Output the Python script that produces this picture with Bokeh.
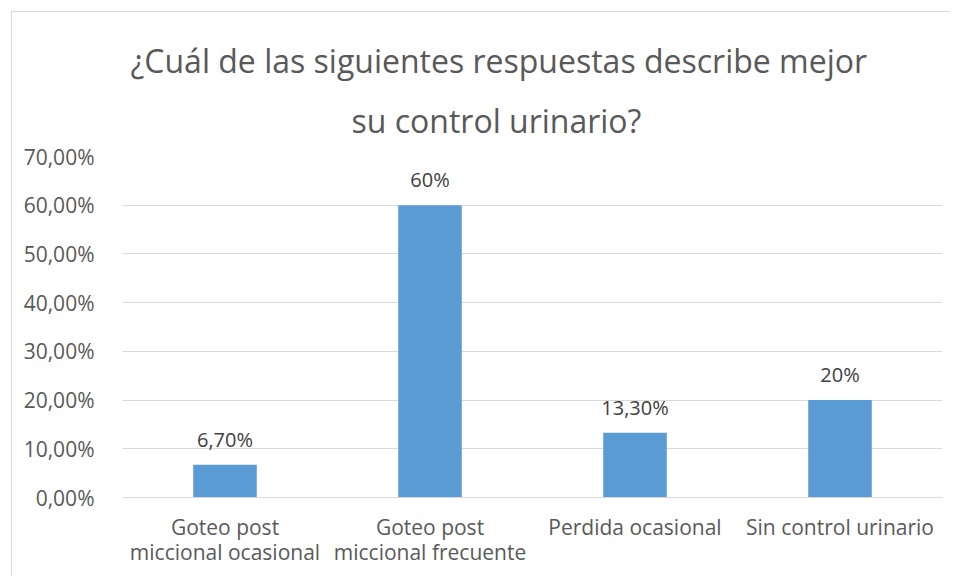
from bokeh.plotting import figure
from bokeh.models import FixedTicker, Title, ColumnDataSource
from bokeh.core.properties import value
from bokeh.embed import file_html
from bokeh.resources import INLINE

title_lines = ["¿Cuál de las siguientes respuestas describe mejor", "su control urinario?"]
categories = ["Goteo post\nmiccional ocasional", "Goteo post\nmiccional frecuente",
              "Perdida ocasional", "Sin control urinario"]
values = [6.7, 60, 13.3, 20]
value_labels = ["6,70%", "60%", "13,30%", "20%"]
y_ticks = [0, 10, 20, 30, 40, 50, 60, 70]
y_tick_labels = ["0,00%", "10,00%", "20,00%", "30,00%", "40,00%", "50,00%", "60,00%", "70,00%"]

FONT = "Open Sans"

src = ColumnDataSource(dict(cat=categories, val=values, lab=value_labels))

p = figure(x_range=categories, y_range=(0, 70), width=939, height=565,
           output_backend="svg", toolbar_location=None,
           min_border_left=110, min_border_right=9, min_border_bottom=80, min_border_top=144)
p.styles = {"border-top": "1px solid #d9d9d9", "border-left": "1px solid #d9d9d9",
            "margin-left": "11px", "margin-top": "11px"}

p.title = None
t2 = Title(text=title_lines[1], align="left", offset=229, text_font=FONT, text_font_size="32px",
           text_color="#595959", text_font_style="normal", standoff=30, text_line_height=1.0)
t1 = Title(text=title_lines[0], align="left", offset=8, text_font=FONT, text_font_size="32px",
           text_color="#595959", text_font_style="normal", standoff=0, text_line_height=0.75)
p.add_layout(t2, "above")
p.add_layout(t1, "above")

p.vbar(x="cat", top="val", width=0.31, source=src, fill_color="#5B9BD5", line_color=None)
p.text(x="cat", y="val", text="lab", source=src, text_align="center", text_baseline="bottom",
       y_offset=-12, text_font=value(FONT), text_font_size="20px", text_color="#404040")

p.outline_line_color = None
p.background_fill_color = "white"
p.border_fill_color = "white"

p.xgrid.grid_line_color = None
p.ygrid.grid_line_color = "#d9d9d9"
p.ygrid.grid_line_width = 1
p.ygrid.ticker = FixedTicker(ticks=y_ticks)

p.yaxis.ticker = FixedTicker(ticks=y_ticks)
p.yaxis.major_label_overrides = {t_: l for t_, l in zip(y_ticks, y_tick_labels)}
p.yaxis.axis_line_color = None
p.yaxis.major_tick_line_color = None
p.yaxis.minor_tick_line_color = None
p.yaxis.major_label_text_font = FONT
p.yaxis.major_label_text_font_size = "21px"
p.yaxis.major_label_text_color = "#595959"
p.yaxis.major_label_standoff = 22

p.xaxis.axis_line_color = "#d9d9d9"
p.xaxis.major_tick_line_color = None
p.xaxis.minor_tick_line_color = None
p.xaxis.major_label_text_font = FONT
p.xaxis.major_label_text_font_size = "21px"
p.xaxis.major_label_text_color = "#595959"
p.xaxis.major_label_standoff = 9
p.xaxis.major_label_text_line_height = 0.92

open("out.html", "w").write(file_html(p, INLINE))
